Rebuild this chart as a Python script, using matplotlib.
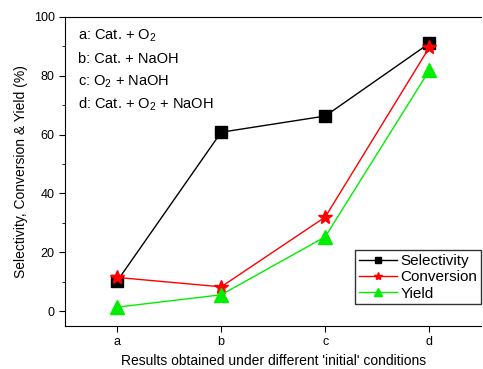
import matplotlib
matplotlib.use("Agg")
import matplotlib.pyplot as plt
from matplotlib.ticker import MultipleLocator

plt.rcParams['font.family'] = ['Liberation Sans', 'DejaVu Sans']
plt.rcParams['mathtext.fontset'] = 'custom'
plt.rcParams['mathtext.rm'] = 'Liberation Sans'
plt.rcParams['mathtext.it'] = 'Liberation Sans:italic'

categories = ['a', 'b', 'c', 'd']
selectivity = [10.2, 60.8, 66.3, 91.0]
conversion = [11.5, 8.3, 32.0, 89.6]
yield_ = [1.4, 5.6, 25.3, 81.8]
conditions = ['a: Cat. + O$_\\mathregular{2}$', 'b: Cat. + NaOH', 'c: O$_\\mathregular{2}$ + NaOH',
              'd: Cat. + O$_\\mathregular{2}$ + NaOH']

fig = plt.figure(figsize=(4.83, 3.69), dpi=100)
ax = fig.add_axes([0.1346, 0.1165, 0.862, 0.838])
x = list(range(1, len(categories) + 1))
ax.plot(x, selectivity, color='black', marker='s', ms=8, lw=1, label='Selectivity')
ax.plot(x, conversion, color='red', marker='*', ms=10, lw=1, label='Conversion')
ax.plot(x, yield_, color='#00ee00', marker='^', ms=10.5, lw=1, label='Yield')

ax.set_xlim(0.5, 4.5)
ax.set_ylim(-5, 100)
ax.set_xticks(x)
ax.set_xticklabels(categories)
ax.yaxis.set_major_locator(MultipleLocator(20))
ax.yaxis.set_minor_locator(MultipleLocator(10))
ax.set_yticks([0, 20, 40, 60, 80, 100])
ax.tick_params(axis='both', which='both', direction='out', labelsize=9, top=False, right=False)
ax.tick_params(which='major', length=4)
ax.tick_params(which='minor', length=2.5)
ax.tick_params(axis='x', which='minor', bottom=False)
ax.set_ylabel('Selectivity, Conversion & Yield (%)', fontsize=10)
ax.set_xlabel("Results obtained under different 'initial' conditions", fontsize=10)
ax.spines['right'].set_visible(False)

for i, s in enumerate(conditions):
    ax.text(0.032, 0.937 - i * 0.073, s, transform=ax.transAxes, va='center', ha='left',
            fontsize=10.5)

leg = ax.legend(loc='lower right', bbox_to_anchor=(0.9995, 0.07), fontsize=11, frameon=True,
                fancybox=False, edgecolor='black', handlelength=2.5, borderpad=0.25,
                labelspacing=0.15, handletextpad=0.2, borderaxespad=0, markerscale=0.6)
leg.get_frame().set_linewidth(1)

fig.savefig('out.png', dpi=100)
